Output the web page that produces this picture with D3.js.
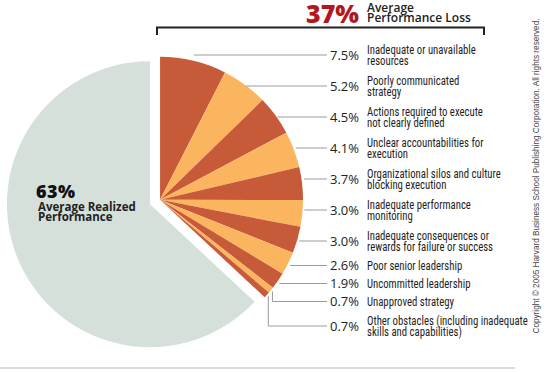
<!DOCTYPE html>
<html>
<head>
<meta charset="utf-8">
<script src="https://cdn.jsdelivr.net/npm/d3@7"></script>
<style>
  body { margin: 0; background: #fff; }
  svg { display: block; }
  .val { font-family: "Open Sans", sans-serif; font-size: 13px; fill: #222; }
  .desc { font-family: "Liberation Sans Narrow", "Roboto Condensed", sans-serif; font-size: 12.5px; fill: #1e1e1e; }
</style>
</head>
<body>
<svg id="chart" width="559" height="372"></svg>
<script>
// DATA
const causes = [
  ["Inadequate or unavailable", "resources"],
  ["Poorly communicated", "strategy"],
  ["Actions required to execute", "not clearly defined"],
  ["Unclear accountabilities for", "execution"],
  ["Organizational silos and culture", "blocking execution"],
  ["Inadequate performance", "monitoring"],
  ["Inadequate consequences or", "rewards for failure or success"],
  ["Poor senior leadership"],
  ["Uncommitted leadership"],
  ["Unapproved strategy"],
  ["Other obstacles (including inadequate", "skills and capabilities)"]
];
const lossValues = [7.5, 5.2, 4.5, 4.1, 3.7, 3.0, 3.0, 2.6, 1.9, 0.7, 0.7];
const realizedValue = 63;
const lossTotal = 37;
const realizedLabel = ["Average Realized", "Performance"];
const lossLabel = ["Average", "Performance Loss"];
const copyright = "Copyright \u00A9 2005 Harvard Business School Publishing Corporation. All rights reserved.";

// SETUP
const svg = d3.select("#chart");
const radius = 143;
const cx = 155, cy = 202, explode = 5.5;
const colors = ["#c75b39", "#fcb55f"];
const grey = "#d5e0da";

// pie layout: loss slices first, then realized
const pieData = lossValues.map((v, i) => ({ value: v, i: i, loss: true }))
  .concat([{ value: realizedValue, i: -1, loss: false }]);
const pie = d3.pie().sort(null).value(d => d.value);
const arcs = pie(pieData);

const arc = d3.arc().innerRadius(0).outerRadius(radius);
const anchorArc = d3.arc().innerRadius(radius + 2).outerRadius(radius + 2);

// explode the two groups apart along the loss bisector
const lossArcs = arcs.filter(d => d.data.loss);
const lossMid = (lossArcs[0].startAngle + lossArcs[lossArcs.length - 1].endAngle) / 2;
const ox = cx + explode * Math.sin(lossMid), oy = cy - explode * Math.cos(lossMid);
const gx = cx - explode * Math.sin(lossMid), gy = cy + explode * Math.cos(lossMid);

// realized slice
const gRealized = svg.append("g").attr("transform", `translate(${gx},${gy})`);
gRealized.selectAll("path")
  .data(arcs.filter(d => !d.data.loss))
  .join("path")
  .attr("d", arc)
  .attr("fill", grey);

// loss slices
const gLoss = svg.append("g").attr("transform", `translate(${ox},${oy})`);
gLoss.selectAll("path")
  .data(lossArcs)
  .join("path")
  .attr("d", arc)
  .attr("fill", d => colors[d.data.i % 2]);

// label rows: spacing depends on number of text lines
const rowH = n => (n > 1 ? 31 : 18);
const labelY = [];
let yy = 55;
causes.forEach((c, i) => {
  if (i > 0) yy += rowH(causes[i - 1].length) / 2 + rowH(c.length) / 2;
  labelY.push(yy);
});

const lineEnd = 327, valX = 359, descX = 367;

// leader lines
gLoss.selectAll(".leader")
  .data(lossArcs)
  .join("path")
  .attr("class", "leader")
  .attr("fill", "none")
  .attr("stroke", "#9a9a9a")
  .attr("stroke-width", 1)
  .attr("d", d => {
    const [ax, ay] = anchorArc.centroid(d);
    const ly = labelY[d.data.i] - oy;
    const ex = lineEnd - ox;
    if (Math.abs(ay - ly) > 6) return `M${ax},${ay}V${ly}H${ex}`;
    return `M${ax},${ly}H${ex}`;
  });

// values
svg.selectAll(".val")
  .data(lossValues)
  .join("text")
  .attr("class", "val")
  .attr("x", valX)
  .attr("y", (d, i) => labelY[i])
  .attr("dy", "0.36em")
  .attr("text-anchor", "end")
  .text(d => d.toFixed(1) + "%");

// descriptions (condensed type, squeezed a little)
const gDesc = svg.append("g")
  .attr("transform", `translate(${descX},0) scale(0.86,1)`);
const desc = gDesc.selectAll(".desc")
  .data(causes)
  .join("text")
  .attr("class", "desc")
  .attr("x", 0)
  .attr("y", (d, i) => labelY[i]);
desc.selectAll("tspan")
  .data(d => d.map((t, j) => ({ t, j, n: d.length })))
  .join("tspan")
  .attr("x", 0)
  .attr("dy", d => d.j === 0 ? (d.n > 1 ? "-0.08em" : "0.35em") : "0.85em")
  .text(d => d.t);

// title: 37% Average Performance Loss
svg.append("text")
  .attr("x", valX)
  .attr("y", 23)
  .attr("text-anchor", "end")
  .style("font-family", "'Open Sans', sans-serif")
  .style("font-weight", 800)
  .style("font-size", "25px")
  .style("fill", "#b3181e")
  .text(lossTotal + "%");
svg.append("text")
  .style("font-family", "'Open Sans', sans-serif")
  .style("font-weight", 600)
  .style("font-size", "12px")
  .style("fill", "#222")
  .selectAll("tspan")
  .data(lossLabel)
  .join("tspan")
  .attr("x", descX)
  .attr("y", (d, i) => 11.5 + i * 10.5)
  .text(d => d);

// bracket over the loss slices
svg.append("path")
  .attr("d", "M157,35V27.5H484V35")
  .attr("fill", "none")
  .attr("stroke", "#222")
  .attr("stroke-width", 2);

// realized label
svg.append("text")
  .attr("x", 36)
  .attr("y", 198)
  .style("font-family", "'Open Sans', sans-serif")
  .style("font-weight", 800)
  .style("font-size", "18px")
  .style("letter-spacing", "0.5px")
  .style("fill", "#111")
  .text(realizedValue + "%");
svg.append("text")
  .style("font-family", "'Open Sans', sans-serif")
  .style("font-weight", 700)
  .style("font-size", "11.5px")
  .style("fill", "#222")
  .selectAll("tspan")
  .data(realizedLabel)
  .join("tspan")
  .attr("x", 38)
  .attr("y", (d, i) => 211 + i * 10)
  .text(d => d);

// copyright, vertical
svg.append("text")
  .attr("transform", "translate(539,176) rotate(-90)")
  .attr("text-anchor", "middle")
  .attr("textLength", 315)
  .attr("lengthAdjust", "spacingAndGlyphs")
  .style("font-family", "'Liberation Sans Narrow', sans-serif")
  .style("font-size", "9px")
  .style("fill", "#444")
  .text(copyright);

// bottom rule
svg.append("line")
  .attr("x1", 0).attr("x2", 515)
  .attr("y1", 368).attr("y2", 368)
  .attr("stroke", "#cfcfcf")
  .attr("stroke-width", 1.5);
</script>
</body>
</html>
